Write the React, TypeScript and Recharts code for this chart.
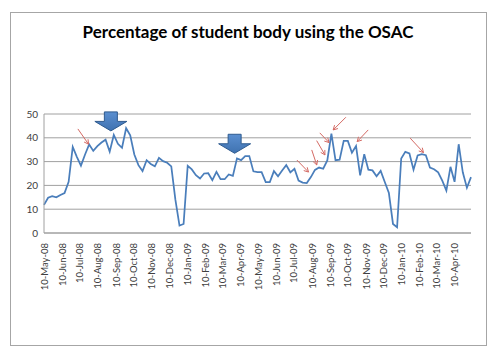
import React from "react";
import { LineChart, Line, XAxis, YAxis, CartesianGrid, ReferenceDot } from "recharts";

// ---- data ----
const firstWeek = "2008-05-10"; // weekly observations start here
const weeklyValues = [
  11.8, 14.8, 15.5, 15.0, 16.0, 16.8, 21.5, 36.2, 32.0, 28.3,
  33.0, 37.2, 34.5, 36.5, 38.0, 39.2, 34.2, 41.2, 37.5, 35.8,
  44.0, 41.0, 33.0, 28.5, 26.0, 30.6, 29.0, 28.0, 31.6, 30.2,
  29.5, 28.0, 14.0, 3.1, 3.8, 28.2, 26.7, 24.3, 22.9, 25.0,
  25.1, 22.2, 25.7, 22.6, 22.6, 24.6, 24.0, 31.3, 30.6, 32.3,
  32.3, 25.9, 25.6, 25.6, 21.4, 21.4, 26.0, 23.8, 26.3, 28.5,
  25.5, 27.0, 22.0, 21.2, 21.0, 23.5, 26.5, 27.5, 27.0, 30.5,
  41.8, 30.6, 30.8, 38.7, 38.7, 33.7, 36.5, 24.2, 33.1, 26.6,
  26.3, 23.8, 26.1, 21.4, 16.8, 3.8, 2.4, 31.3, 34.1, 33.4,
  26.6, 32.6, 33.1, 32.7, 27.5, 26.8, 25.5, 22.0, 17.8, 27.8,
  21.5, 37.3, 25.5, 19.0, 23.5,
];
const monthTickLabels = [
  "10-May-08", "10-Jun-08", "10-Jul-08", "10-Aug-08", "10-Sep-08", "10-Oct-08",
  "10-Nov-08", "10-Dec-08", "10-Jan-09", "10-Feb-09", "10-Mar-09", "10-Apr-09",
  "10-May-09", "10-Jun-09", "10-Jul-09", "10-Aug-09", "10-Sep-09", "10-Oct-09",
  "10-Nov-09", "10-Dec-09", "10-Jan-10", "10-Feb-10", "10-Mar-10", "10-Apr-10",
];
const yTicks = [0, 10, 20, 30, 40, 50];

// annotations (tip at a date/value)
const blockArrows = [
  { date: "2008-09-01", value: 42.9 },
  { date: "2009-03-31", value: 33.5 },
];
const pointerArrows = [
  { date: "2008-07-25", value: 37.3, dx: -10.7, dy: -15.3 },
  { date: "2009-08-04", value: 25.6, dx: -11.6, dy: -12 },
  { date: "2009-08-18", value: 28.6, dx: -5, dy: -15 },
  { date: "2009-09-01", value: 32.8, dx: -8.3, dy: -14.3 },
  { date: "2009-09-08", value: 38.0, dx: -9.3, dy: -9.7 },
  { date: "2009-09-15", value: 43.3, dx: 12.7, dy: -12.7 },
  { date: "2009-10-26", value: 38.4, dx: 11, dy: -11.7 },
  { date: "2010-02-16", value: 33.8, dx: -13.3, dy: -14.4 },
];

// ---- helpers ----
const DAY = 86400000;
const MONTHS = ["Jan", "Feb", "Mar", "Apr", "May", "Jun", "Jul", "Aug", "Sep", "Oct", "Nov", "Dec"];
const isoToTime = (s: string) => {
  const [y, m, d] = s.split("-").map(Number);
  return Date.UTC(y, m - 1, d);
};
const labelToTime = (s: string) => {
  const [d, mon, yy] = s.split("-");
  return Date.UTC(2000 + Number(yy), MONTHS.indexOf(mon), Number(d));
};
const startT = isoToTime(firstWeek);
const data = weeklyValues.map((v, i) => ({ t: startT + i * 7 * DAY, v }));
const tickTimes = monthTickLabels.map(labelToTime);
const labelByTime: Record<number, string> = {};
monthTickLabels.forEach((l, i) => (labelByTime[tickTimes[i]] = l));

const FONT = "Lato, 'Open Sans', sans-serif";

const XTick = (props: any) => {
  const { x, y, payload } = props;
  return (
    <g transform={`translate(${x},${y})`}>
      <text
        transform="rotate(-90)"
        textAnchor="end"
        dominantBaseline="central"
        fontSize={9.5}
        fontFamily={FONT}
        fill="#404040"
      >
        {labelByTime[payload.value]}
      </text>
    </g>
  );
};

const BlockArrow = (props: any) => {
  const { cx, cy } = props;
  if (cx == null || cy == null) return <g />;
  const pts = [
    [cx - 6.5, cy - 19],
    [cx + 6.5, cy - 19],
    [cx + 6.5, cy - 9.5],
    [cx + 16, cy - 9.5],
    [cx, cy],
    [cx - 16, cy - 9.5],
    [cx - 6.5, cy - 9.5],
  ]
    .map((p) => p.join(","))
    .join(" ");
  return <polygon points={pts} fill="url(#blueGrad)" stroke="#2f5b8f" strokeWidth={1} />;
};

const makePointer = (dx: number, dy: number) => (props: any) => {
  const { cx, cy } = props;
  if (cx == null || cy == null) return <g />;
  const len = Math.hypot(dx, dy);
  const ux = dx / len;
  const uy = dy / len;
  const h = 5;
  const a = 0.5;
  const cos = Math.cos(a);
  const sin = Math.sin(a);
  const h1x = cx + h * (ux * cos - uy * sin);
  const h1y = cy + h * (ux * sin + uy * cos);
  const h2x = cx + h * (ux * cos + uy * sin);
  const h2y = cy + h * (-ux * sin + uy * cos);
  return (
    <g stroke="#d46a64" strokeWidth={1} fill="none">
      <line x1={cx + dx} y1={cy + dy} x2={cx} y2={cy} />
      <polyline points={`${h1x},${h1y} ${cx},${cy} ${h2x},${h2y}`} />
    </g>
  );
};

export default function App() {
  return (
    <div style={{ position: "absolute", left: 0, top: 0, width: 500, height: 357, background: "#fff" }}>
      <div
        style={{
          position: "absolute",
          left: 10,
          top: 12,
          width: 475,
          height: 332,
          border: "1px solid #a6a6a6",
        }}
      />
      <div
        style={{
          position: "absolute",
          left: 0,
          top: 22,
          width: 496,
          textAlign: "center",
          fontFamily: FONT,
          fontWeight: 700,
          fontSize: 17,
          color: "#000",
          lineHeight: "20px",
        }}
      >
        Percentage of student body using the OSAC
      </div>
      <div style={{ position: "absolute", left: 0, top: 0 }}>
        <LineChart
          width={500}
          height={357}
          data={data}
          margin={{ top: 114, right: 29, bottom: 74, left: 14 }}
        >
          <defs>
            <linearGradient id="blueGrad" x1="0" y1="0" x2="0" y2="1">
              <stop offset="0%" stopColor="#5b8fd0" />
              <stop offset="100%" stopColor="#3f72b0" />
            </linearGradient>
          </defs>
          <CartesianGrid vertical={false} stroke="#a0a0a0" strokeWidth={1} />
          <XAxis
            dataKey="t"
            type="number"
            scale="linear"
            domain={[data[0].t, data[data.length - 1].t]}
            ticks={tickTimes}
            tick={<XTick />}
            interval={0}
            tickLine={false}
            tickSize={0}
            tickMargin={10}
            axisLine={{ stroke: "#a0a0a0" }}
            height={50}
          />
          <YAxis
            domain={[0, 50]}
            ticks={yTicks}
            tickLine={false}
            tickSize={0}
            tickMargin={6}
            axisLine={{ stroke: "#a0a0a0" }}
            width={30}
            tick={{ fontSize: 10, fontFamily: FONT, fill: "#404040" }}
          />
          <Line
            type="linear"
            dataKey="v"
            stroke="#4a7ebb"
            strokeWidth={1.75}
            dot={false}
            isAnimationActive={false}
          />
          {blockArrows.map((a, i) => (
            <ReferenceDot
              key={`b${i}`}
              x={isoToTime(a.date)}
              y={a.value}
              r={1}
              ifOverflow="visible"
              shape={(p: any) => <BlockArrow {...p} />}
            />
          ))}
          {pointerArrows.map((a, i) => {
            const Shape = makePointer(a.dx, a.dy);
            return (
              <ReferenceDot
                key={`p${i}`}
                x={isoToTime(a.date)}
                y={a.value}
                r={1}
                ifOverflow="visible"
                shape={(p: any) => <Shape {...p} />}
              />
            );
          })}
        </LineChart>
      </div>
    </div>
  );
}
